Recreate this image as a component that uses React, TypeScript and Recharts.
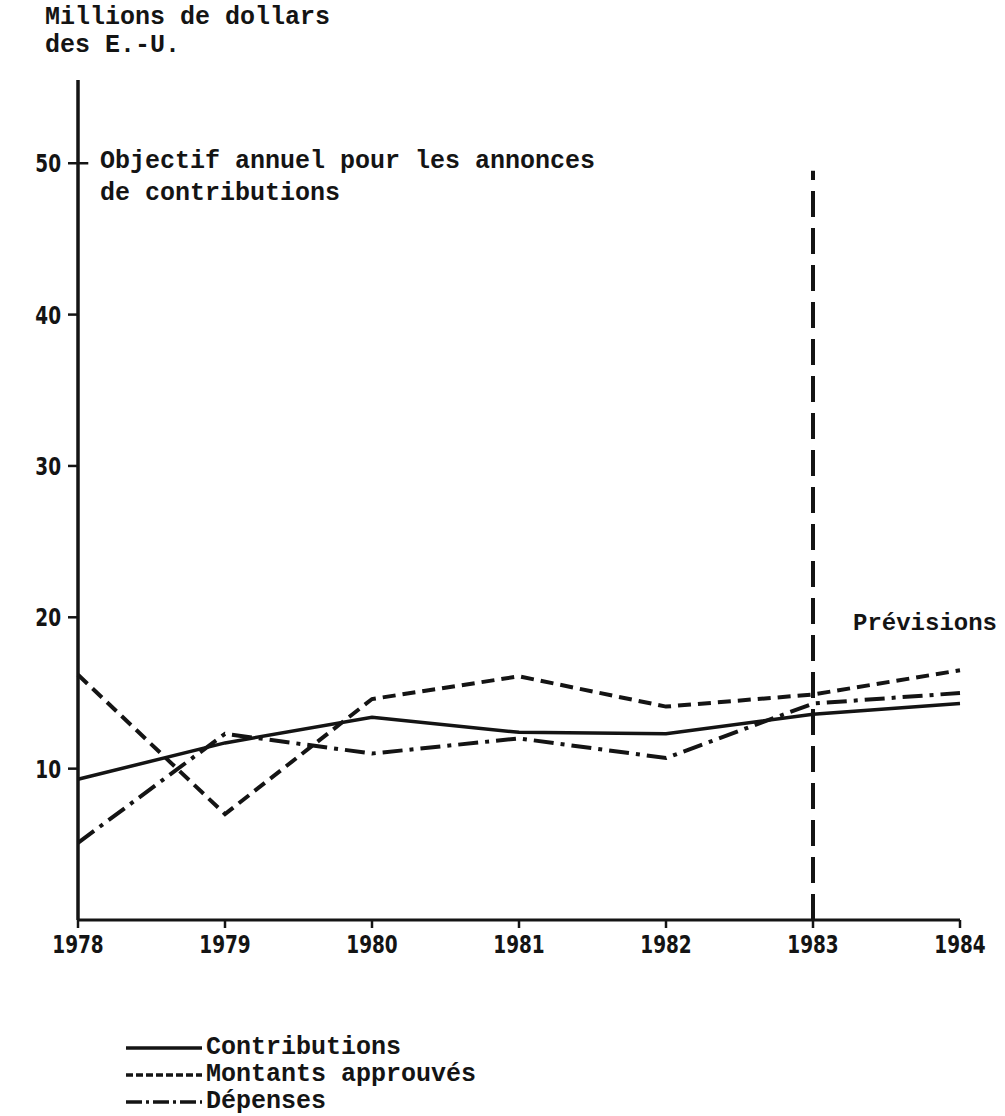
import { LineChart, Line, XAxis, YAxis, ReferenceLine } from "recharts";

const years = [1978, 1979, 1980, 1981, 1982, 1983, 1984];
const contributions = [9.3, 11.7, 13.4, 12.4, 12.3, 13.6, 14.3];
const montantsApprouves = [16.2, 7.0, 14.6, 16.1, 14.1, 14.9, 16.5];
const depenses = [5.1, 12.3, 11.0, 12.0, 10.7, 14.3, 15.0];
const yTicks = [10, 20, 30, 40, 50];
const forecastYear = 1983;

const data = years.map((year, i) => ({
  year,
  contributions: contributions[i],
  montants: montantsApprouves[i],
  depenses: depenses[i],
}));

const series = [
  { key: "contributions", name: "Contributions", dash: undefined, legendDash: undefined, width: 3.5 },
  { key: "montants", name: "Montants approuvés", dash: "13 7", legendDash: "7 3", width: 4 },
  { key: "depenses", name: "Dépenses", dash: "20 7 4 7", legendDash: "16 4 3 4", width: 4 },
];

const ink = "#141414";
const mono = "'Liberation Mono', 'DejaVu Sans Mono', monospace";
const digits = "'DejaVu Sans', sans-serif";

const textStyle: React.CSSProperties = {
  position: "absolute",
  fontFamily: mono,
  fontWeight: 700,
  fontSize: 25,
  color: ink,
  whiteSpace: "pre",
};

// condensed heavy digits, like the stencil lettering of the original
function CondensedTick(props: any) {
  const { x, y, payload, textAnchor, dy } = props;
  return (
    <g transform={`translate(${x},${y})`}>
      <text
        transform="scale(0.74,1)"
        textAnchor={textAnchor}
        dy={dy}
        fill={ink}
        fontFamily={digits}
        fontWeight={700}
        fontSize={25}
      >
        {payload.value}
      </text>
    </g>
  );
}

export default function App() {
  return (
    <div style={{ position: "absolute", left: 0, top: 0, width: 1005, height: 1116, background: "#fff" }}>
      <LineChart width={1005} height={1116} data={data} margin={{ top: 80, right: 45, bottom: 156, left: 0 }}>
        <XAxis
          dataKey="year"
          type="number"
          domain={[1978, 1984]}
          ticks={years}
          height={40}
          tickSize={8}
          tickMargin={6}
          axisLine={{ stroke: ink, strokeWidth: 3 }}
          tickLine={{ stroke: ink, strokeWidth: 2.5 }}
          tick={<CondensedTick dy={19} />}
        />
        <YAxis
          type="number"
          domain={[0, 55.5]}
          ticks={yTicks}
          width={78}
          tickSize={10}
          tickMargin={7}
          axisLine={{ stroke: ink, strokeWidth: 3.5 }}
          tickLine={{ stroke: ink, strokeWidth: 2.5 }}
          tick={<CondensedTick dy={9} />}
        />
        <ReferenceLine
          segment={[{ x: 1978, y: 50 }, { x: 1978.07, y: 50 }]}
          stroke={ink}
          strokeWidth={2.5}
        />
        <ReferenceLine
          segment={[{ x: forecastYear, y: 0 }, { x: forecastYear, y: 49.5 }]}
          stroke={ink}
          strokeWidth={4}
          strokeDasharray="26 11"
        />
        {series.map((s) => (
          <Line
            key={s.key}
            type="linear"
            dataKey={s.key}
            name={s.name}
            stroke={ink}
            strokeWidth={s.width}
            strokeDasharray={s.dash}
            dot={false}
            isAnimationActive={false}
          />
        ))}
      </LineChart>

      <div style={{ ...textStyle, left: 45, top: 4, lineHeight: "28px" }}>
        {"Millions de dollars\ndes E.-U."}
      </div>
      <div style={{ ...textStyle, left: 100, top: 146, lineHeight: "32px" }}>
        {"Objectif annuel pour les annonces\nde contributions"}
      </div>
      <div style={{ ...textStyle, fontSize: 24, left: 853, top: 609, lineHeight: "30px" }}>Prévisions</div>

      <div style={{ position: "absolute", left: 126, top: 1034 }}>
        {series.map((s) => (
          <div key={s.key} style={{ display: "flex", alignItems: "center", height: 27 }}>
            <svg width={76} height={10} style={{ marginRight: 4 }}>
              <line x1={0} y1={5} x2={76} y2={5} stroke={ink} strokeWidth={3.5} strokeDasharray={s.legendDash} />
            </svg>
            <span style={{ fontFamily: mono, fontWeight: 700, fontSize: 25, color: ink, whiteSpace: "pre" }}>{s.name}</span>
          </div>
        ))}
      </div>
    </div>
  );
}
